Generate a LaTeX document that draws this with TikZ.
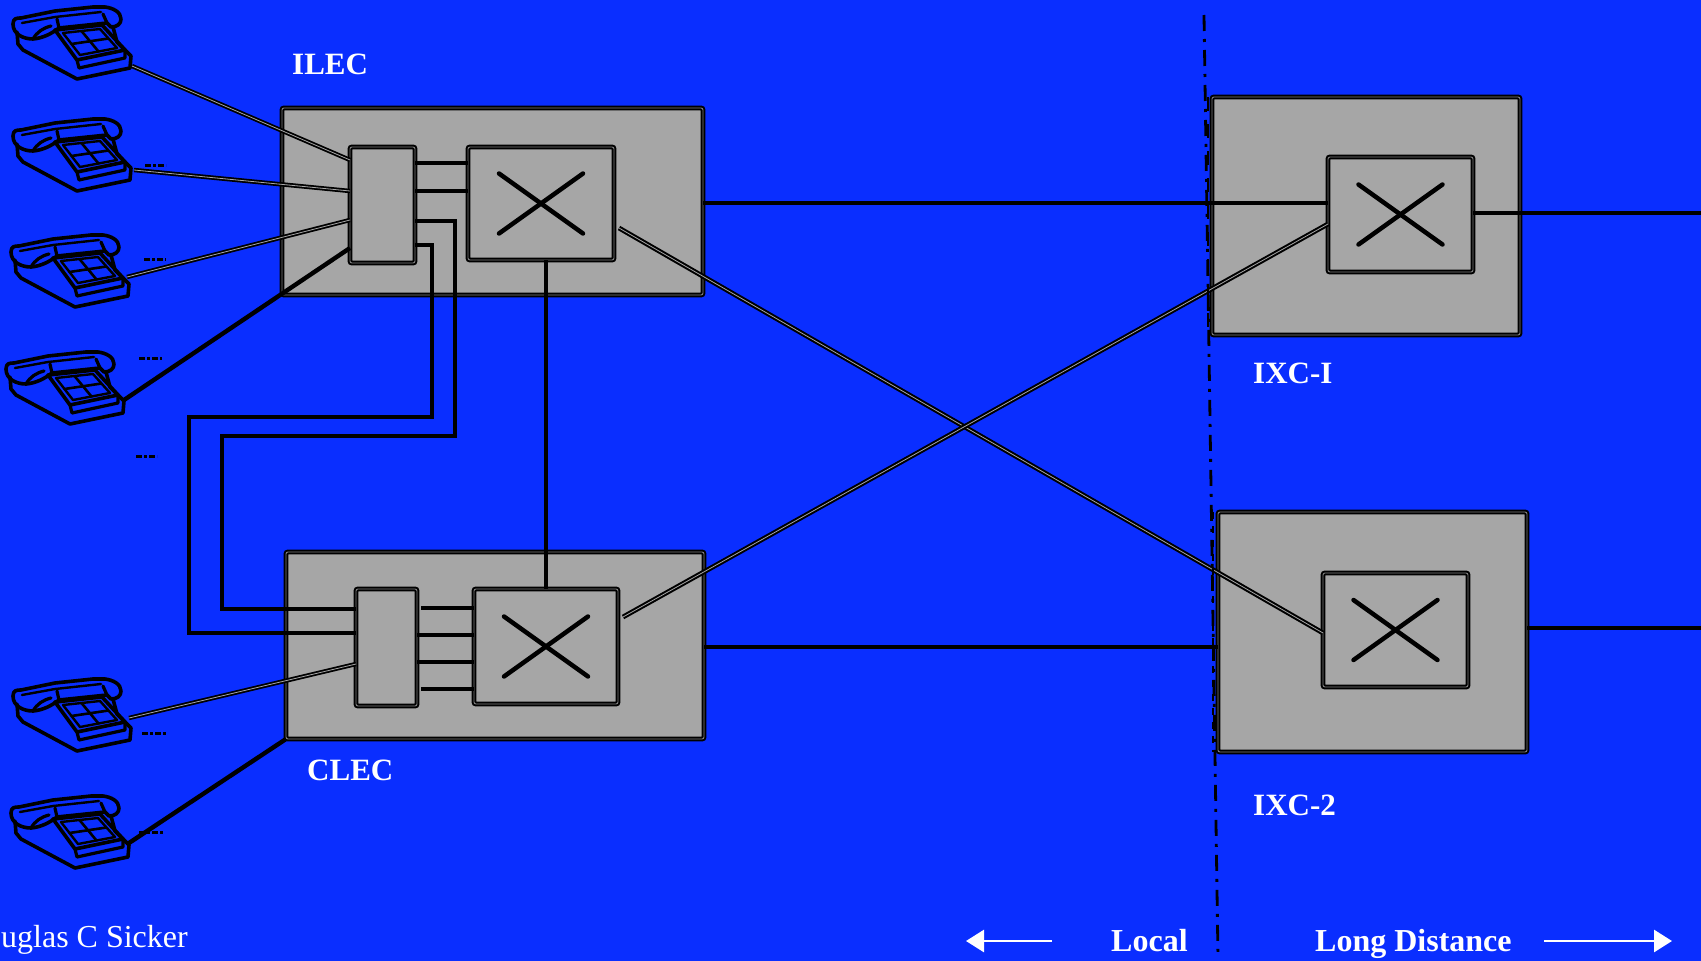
\documentclass[tikz,border=0pt]{standalone}
\usepackage{fontspec}
\setmainfont{Liberation Serif}
\usetikzlibrary{arrows.meta}
\definecolor{bgblue}{RGB}{10,46,255}
\definecolor{boxgray}{RGB}{166,166,166}
\begin{document}
\begin{tikzpicture}[x=1pt,y=-1pt,
  bigbox/.style={draw=black, line width=2, double=black!50, double distance=0.9, fill=boxgray, rounded corners=2, inner sep=0, outer sep=0},
  swbox/.style={bigbox, path picture={
    \draw[line width=4.5, line cap=round] ([xshift=-42pt,yshift=30pt]path picture bounding box.center) -- ([xshift=42pt,yshift=-30pt]path picture bounding box.center);
    \draw[line width=4.5, line cap=round] ([xshift=-42pt,yshift=-30pt]path picture bounding box.center) -- ([xshift=42pt,yshift=30pt]path picture bounding box.center);}},
  wire/.style={line width=4.4},
  thinwire/.style={line width=3.8},
  cord/.style={line width=1.8, double=black!35, double distance=0.8},
  lbl/.style={text=white, font=\fontsize{31}{31}\selectfont\bfseries, inner sep=0},
  botlbl/.style={text=white, font=\fontsize{32}{32}\selectfont\bfseries, inner sep=0},
  warrow/.style={white, line width=2.8, -{Triangle[length=18pt, width=22pt]}},
  smudge/.style={line width=3, dash pattern=on 6pt off 2pt on 3pt off 2pt},
  phoneline/.style={line width=3.2, line join=round, line cap=round},
  phone/.pic={
    % base
    \draw[phoneline, line width=3.6] (4,26) -- (5,38) -- (10,44) -- (64,73) -- (117,62) -- (118,50) -- (104,36) -- (100,21);
    \draw[phoneline] (64,54) -- (66,62) -- (112,52) -- (112,44);
    % handset
    \draw[phoneline, line width=3.6] (0,18) .. controls (0,12) and (4,12) .. (8,12) -- (42,5) -- (80,1) -- (92,1)
      .. controls (100,2) and (108,6) .. (108,13) .. controls (108,18) and (104,21) .. (98,21) -- (94,17) -- (46,22)
      .. controls (38,28) and (30,32) .. (20,33) .. controls (10,33) and (0,28) .. cycle;
    \draw[phoneline, line width=2.4] (9,17) -- (42,11) -- (88,6);
    \draw[phoneline] (44,13) -- (46,22);
    \draw[phoneline] (90,8) -- (94,17);
    \draw[phoneline] (20,33) .. controls (24,26) and (30,22) .. (38,20);
    % keypad
    \draw[phoneline, line width=3.6] (42,24) -- (89,19) -- (112,44) -- (64,54) -- cycle;
    \draw[phoneline, line width=2.4] (50,27) -- (87,23) -- (104,42) -- (67,49) -- cycle;
    \draw[phoneline, line width=2.6] (68.5,25) -- (85.5,45.5);
    \draw[phoneline, line width=2.6] (58.5,38) -- (95.5,32.5);
  }]
\fill[bgblue] (0,0) rectangle (1701,961);
\useasboundingbox (0,0) rectangle (1701,961);

% outer boxes
\node[bigbox, minimum width=421pt, minimum height=187pt] (ilec) at (492.5,201.5) {};
\node[bigbox, minimum width=418pt, minimum height=187pt] (clec) at (495,645.5) {};
\node[bigbox, minimum width=308pt, minimum height=238pt] (ixc1) at (1366,216) {};
\node[bigbox, minimum width=309pt, minimum height=240pt] (ixc2) at (1372.5,632) {};

% phones
\pic (ph1) at (13,6) {phone};
\pic (ph2) at (13,118) {phone};
\pic (ph3) at (11,234) {phone};
\pic (ph4) at (6,351) {phone};
\pic (ph5) at (13,678) {phone};
\pic (ph6) at (11,795) {phone};
\coordinate (j1) at (132,66);
\coordinate (j2) at (134,170);
\coordinate (j3) at (127,277);
\coordinate (j4) at (124,400);
\coordinate (j5) at (129,718);
\coordinate (j6) at (129,843);

% small marks beside phones
\draw[smudge] (145,165) -- (166,165);
\draw[smudge] (144,259) -- (166,259);
\draw[smudge] (139,358) -- (162,358);
\draw[smudge] (136,456) -- (157,456);
\draw[smudge] (142,733) -- (166,733);
\draw[smudge] (139,832) -- (163,832);

% inner boxes
\node[bigbox, minimum width=65pt, minimum height=116pt] (ilecconc) at (382.5,205) {};
\node[swbox, minimum width=146pt, minimum height=113pt] (ilecsw) at (541,203.5) {};
\node[bigbox, minimum width=61pt, minimum height=117pt] (clecconc) at (386.5,647.5) {};
\node[swbox, minimum width=144pt, minimum height=115pt] (clecsw) at (546,646.5) {};
\node[swbox, minimum width=145pt, minimum height=115pt] (ixc1sw) at (1400.5,214.5) {};
\node[swbox, minimum width=145pt, minimum height=114pt] (ixc2sw) at (1395.5,630) {};

% subscriber cords
\draw[cord] (j1) -- (ilecconc.west |- 0,160);
\draw[cord] (j2) -- (ilecconc.west |- 0,191);
\draw[cord] (j3) -- (ilecconc.west |- 0,220);
\draw[wire] (j4) -- (ilecconc.west |- 0,248);
\draw[cord] (j5) -- (clecconc.west |- 0,664);
\draw[wire] (j6) -- (clec.south west);

% ILEC concentrator to switch
\draw[wire] (ilecconc.east |- 0,163) -- (ilecsw.west |- 0,163);
\draw[wire] (ilecconc.east |- 0,191) -- (ilecsw.west |- 0,191);
% CLEC concentrator to switch
\draw[wire] ([xshift=4pt]clecconc.east |- 0,608) -- (clecsw.west |- 0,608);
\draw[wire] (clecconc.east |- 0,635) -- (clecsw.west |- 0,635);
\draw[wire] (clecconc.east |- 0,662) -- (clecsw.west |- 0,662);
\draw[wire] ([xshift=4pt]clecconc.east |- 0,689) -- (clecsw.west |- 0,689);

% unbundled loops ILEC -> CLEC
\draw[wire, line join=miter] (ilecconc.east |- 0,245) -- (432,245) -- (432,417) -- (189,417) -- (189,633) -- (clecconc.west |- 0,633);
\draw[thinwire, line join=miter] (ilecconc.east |- 0,221) -- (455,221) -- (455,436) -- (222,436) -- (222,609) -- (clecconc.west |- 0,609);

% interconnection between switches
\draw[wire] (clecsw.north |- ilecsw.south) -- (clecsw.north);

% trunks to IXCs
\draw[wire] (ilec.east |- 0,203) -- (ixc1sw.west |- 0,203);
\draw[wire] (clec.east |- 0,647) -- (ixc2.west |- 0,647);
\draw[cord, line width=2] ([xshift=5pt]ilecsw.east |- 0,228) -- (ixc2sw.west |- 0,633);
\draw[cord, line width=2] ([xshift=5pt]clecsw.east |- 0,617) -- (ixc1sw.west |- 0,224);
\coordinate (out1) at (1701,213);
\coordinate (out2) at (1701,628);
\draw[wire] (ixc1sw.east |- out1) -- (out1);
\draw[wire] (ixc2.east |- out2) -- (out2);

% local / long distance boundary
\coordinate (bt) at (1204,15);
\coordinate (bb) at (1218,958);
\draw[line width=2.8, dash pattern=on 16pt off 8pt on 3pt off 8pt] (bt) -- (bb);
\draw[line width=2.6, dash pattern=on 14pt off 13pt] (ixc1.north west) ++(-4,0) coordinate (t1a) -- (ixc1.south west -| t1a);
\draw[line width=2.6, dash pattern=on 7pt off 7pt] (ixc2.north west) ++(-5,0) coordinate (t2a) -- (ixc2.south west -| t2a);

% labels
\node[lbl, anchor=base west] (tilec) at (292,74) {ILEC};
\node[lbl, anchor=base west] (tclec) at (307,780) {CLEC};
\node[lbl, anchor=base west] (tixc1) at (1253,383) {IXC-I};
\node[lbl, anchor=base west] (tixc2) at (1253,815) {IXC-2};
\node[text=white, font=\fontsize{32}{32}\selectfont, inner sep=0, anchor=base east] (author) at (188,947) {Douglas C Sicker};
\node[botlbl, anchor=base west] (tlocal) at (1111,951) {Local};
\node[botlbl, anchor=base west] (tld) at (1315,951) {Long Distance};
\coordinate (la1) at (1052,941);
\coordinate (la2) at (966,941);
\coordinate (ra1) at (1544,941);
\coordinate (ra2) at (1672,941);
\draw[warrow] (la1) -- (la2);
\draw[warrow] (ra1) -- (ra2);
\end{tikzpicture}
\end{document}
